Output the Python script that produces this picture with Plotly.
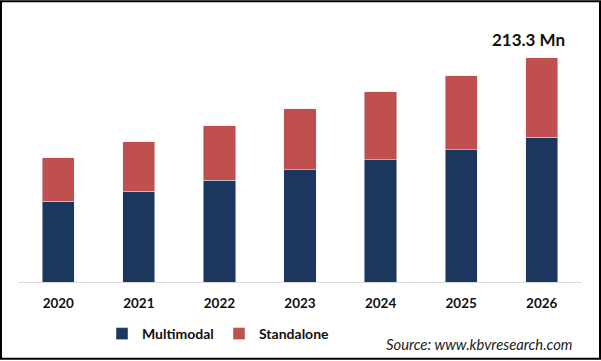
import plotly.graph_objects as go

years = ["2020", "2021", "2022", "2023", "2024", "2025", "2026"]
multimodal = [76.8, 86.3, 96.7, 107.1, 116.6, 126.1, 137.8]
standalone = [41.7, 47.4, 52.1, 57.9, 64.5, 70.1, 75.5]
total_label = "213.3 Mn"

W, H = 601, 361
ml, mr, mt, mb = 18, 19, 40, 78
pw, ph = W - ml - mr, H - mt - mb

fig = go.Figure()
fig.add_trace(go.Bar(x=years, y=multimodal, name="Multimodal", marker_color="#1b375e"))
fig.add_trace(go.Bar(x=years, y=standalone, name="Standalone", marker_color="#c0504d"))

font = "Lato, 'Open Sans', sans-serif"
fig.update_layout(
    width=W, height=H, barmode="stack", bargap=0.6,
    margin=dict(l=ml, r=mr, t=mt, b=mb),
    paper_bgcolor="white", plot_bgcolor="white",
    font=dict(family=font, color="#111"),
    xaxis=dict(type="category", showline=True, linecolor="#d9d9d9", linewidth=1, ticks="",
               tickfont=dict(size=13.5, family=font, weight="bold"), showgrid=False,
               range=[-0.5, 6.5], ticklabelstandoff=9),
    yaxis=dict(visible=False, range=[0, 230.4], showgrid=False),
    showlegend=True,
    legend=dict(orientation="h", x=(102 - ml) / pw, xanchor="left",
                y=-(334 - mt - ph) / ph, yanchor="middle",
                font=dict(size=14, family=font, weight="bold"), traceorder="normal",
                itemwidth=30, entrywidth=72, entrywidthmode="pixels"),
)
fig.add_annotation(x=len(years) - 1, y=multimodal[-1] + standalone[-1], text=total_label,
                   showarrow=False, yanchor="bottom", yshift=6, xshift=-13,
                   font=dict(size=17, family=font, weight="bold", color="#111"))
fig.add_annotation(xref="paper", yref="paper", x=(575 - ml) / pw, y=-(345 - mt - ph) / ph,
                   text="<i>Source: www.kbvresearch.com</i>", showarrow=False,
                   xanchor="right", yanchor="middle",
                   font=dict(size=14.8, family=font, color="#222"))
fig.add_shape(type="rect", xref="paper", yref="paper",
              x0=-(ml - 1) / pw, x1=1 + (mr - 1) / pw,
              y0=-(mb - 1) / ph, y1=1 + (mt - 1) / ph,
              line=dict(color="black", width=2), layer="above")
fig.write_html("out.html", config={"displayModeBar": False},
               post_script="document.body.style.margin='0';")
